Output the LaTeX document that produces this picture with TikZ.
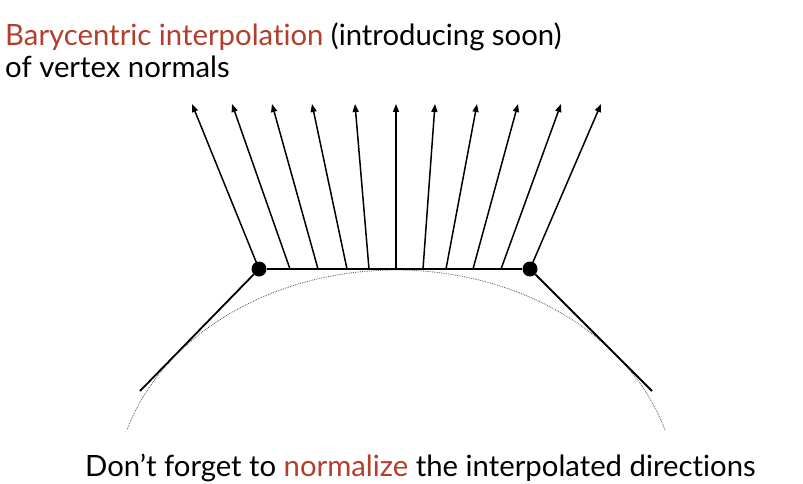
\documentclass[tikz,border=0pt]{standalone}
\usepackage{fontspec}
\setmainfont{Lato}[Ligatures={NoCommon,TeX}]
\usetikzlibrary{arrows.meta}
\definecolor{accent}{RGB}{178,62,46}
\begin{document}
\begin{tikzpicture}[x=1pt,y=-1pt,
  vertexdot/.style={circle,fill=black,inner sep=0pt,minimum size=15pt},
  normalarrow/.style={line width=1.5pt,-{Triangle[length=8pt,width=6pt]}},
  edgeline/.style={line width=1.8pt},
  surface/.style={densely dotted,line width=0.8pt,black!65},
  label/.style={anchor=base west,inner sep=0pt,font=\fontsize{29.3}{35}\selectfont}]
\useasboundingbox (0,0) rectangle (803,484);
\fill[white] (0,0) rectangle (803,484);
% surface curve
\draw[surface] plot[domain=16.8:163.2,samples=120] ({396+281*cos(\x)},{495-225*sin(\x)});
% vertices
\node[vertexdot] (v1) at (259,269) {};
\node[vertexdot] (v2) at (530,269) {};
\coordinate (l1) at (140,391);
\coordinate (r1) at (652,391);
\draw[edgeline] (v1) -- (v2);
\draw[edgeline] (v1) -- (l1);
\draw[edgeline] (v2) -- (r1);
% interior base points
\foreach \i/\bx in {2/290,3/318,4/347,5/369,6/396,7/423,8/446,9/473,10/501}
  \coordinate (b\i) at (\bx,269);
% tips
\foreach \i/\tx in {1/192,2/232,3/272,4/312,5/355,6/396,7/435,8/477,9/518,10/561,11/601}
  \coordinate (t\i) at (\tx,104);
\draw[normalarrow] (v1.center) -- (t1);
\foreach \i in {2,...,10}
  \draw[normalarrow] (b\i) -- (t\i);
\draw[normalarrow] (v2.center) -- (t11);
% texts
\node[label] (title1) at (5,46) {\textcolor{accent}{Barycentric interpolation} (introducing soon)};
\node[label] (title2) at (5,78) {of vertex normals};
\node[label] (note) at (85,476) {Don’t forget to \textcolor{accent}{normalize} the interpolated directions};
\end{tikzpicture}
\end{document}
